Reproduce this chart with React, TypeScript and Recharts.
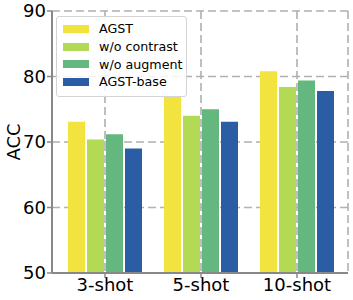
import React from 'react';
import { BarChart, Bar, XAxis, YAxis, CartesianGrid, Legend } from 'recharts';

const categories = ['3-shot', '5-shot', '10-shot'];
const seriesNames = ['AGST', 'w/o contrast', 'w/o augment', 'AGST-base'];
const agst = [73.1, 76.9, 80.8];
const woContrast = [70.4, 74.0, 78.4];
const woAugment = [71.2, 75.0, 79.4];
const agstBase = [69.0, 73.1, 77.8];
const yTicks = [50, 60, 70, 80, 90];

const data = categories.map((c, i) => ({
  name: c,
  agst: agst[i],
  woContrast: woContrast[i],
  woAugment: woAugment[i],
  agstBase: agstBase[i],
}));

const FONT = '"DejaVu Sans", sans-serif';
const FRAME = '#888888';

function LegendBox({ payload }: any) {
  const items = [...(payload || [])].sort(
    (a: any, b: any) => seriesNames.indexOf(a.value) - seriesNames.indexOf(b.value)
  );
  return (
    <div
      style={{
        width: 131,
        boxSizing: 'border-box',
        background: 'rgba(255,255,255,0.85)',
        border: '1px solid #d4d4d4',
        borderRadius: 3,
        padding: '3px 0 5px 0',
        fontFamily: FONT,
        fontSize: 12.7,
        color: '#000',
        textAlign: 'left',
      }}
    >
      {items.map((p: any) => (
        <div key={p.value} style={{ display: 'flex', alignItems: 'center', height: 17.7 }}>
          <span style={{ display: 'inline-block', width: 26, height: 8, background: p.color, marginLeft: 6, marginRight: 10 }} />
          <span>{p.value}</span>
        </div>
      ))}
    </div>
  );
}

export default function App() {
  return (
    <div style={{ position: 'absolute', left: 0, top: 0, width: 353, height: 300, background: '#fff' }}>
      <BarChart
        width={353}
        height={300}
        data={data}
        margin={{ top: 11, right: 5, bottom: 0, left: 0 }}
        barSize={17}
        barGap={2}
      >
        <CartesianGrid stroke="#b0b0b0" strokeWidth={1.6} strokeDasharray="8 4" />
        <XAxis
          dataKey="name"
          height={27}
          padding={{ left: 5, right: 3 }}
          axisLine={{ stroke: FRAME, strokeWidth: 2 }}
          tickLine={{ stroke: FRAME, strokeWidth: 1.5 }}
          tickSize={5}
          tickMargin={0}
          tick={{ fill: '#000', fontSize: 18, fontFamily: FONT }}
        />
        <XAxis xAxisId="top" orientation="top" height={0} axisLine={{ stroke: FRAME, strokeWidth: 2 }} tick={false} tickLine={false} />
        <YAxis
          width={52}
          domain={[50, 90]}
          ticks={yTicks}
          allowDataOverflow
          axisLine={{ stroke: FRAME, strokeWidth: 2 }}
          tickLine={{ stroke: FRAME, strokeWidth: 1.5 }}
          tickSize={5}
          tickMargin={1}
          tick={{ fill: '#000', fontSize: 18, fontFamily: FONT }}
          label={{ value: 'ACC', angle: -90, position: 'insideLeft', offset: 0, dx: 14, style: { fill: '#000', fontSize: 18, fontFamily: FONT, textAnchor: 'middle' } }}
        />
        <YAxis yAxisId="right" orientation="right" width={0} domain={[50, 90]} axisLine={{ stroke: FRAME, strokeWidth: 2 }} tick={false} tickLine={false} />
        <Legend
          layout="horizontal"
          verticalAlign="middle"
          align="center"
          content={<LegendBox />}
          wrapperStyle={{ left: 56, top: 16, width: 131, height: 79 }}
        />
        <Bar dataKey="agst" name="AGST" fill="#f2e33f" isAnimationActive={false} />
        <Bar dataKey="woContrast" name="w/o contrast" fill="#b2da55" isAnimationActive={false} />
        <Bar dataKey="woAugment" name="w/o augment" fill="#64b77f" isAnimationActive={false} />
        <Bar dataKey="agstBase" name="AGST-base" fill="#2b5da4" isAnimationActive={false} />
      </BarChart>
    </div>
  );
}
